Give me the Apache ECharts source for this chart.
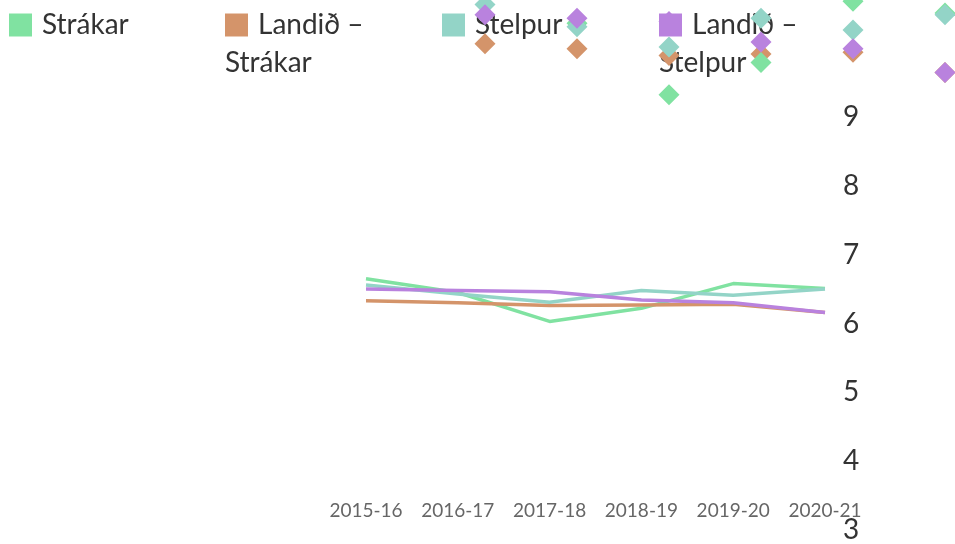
<!DOCTYPE html>
<html lang="is">
<head>
<meta charset="UTF-8">
<title>Strákar og stelpur</title>
<style>
  html, body { margin: 0; padding: 0; background: #fff; }
  #main { width: 955px; height: 544px; }
</style>
</head>
<body>
<div id="main"></div>
<script src="https://cdn.jsdelivr.net/npm/echarts/dist/echarts.min.js"></script>
<script>
// gögn
var years = ['2015-16', '2016-17', '2017-18', '2018-19', '2019-20', '2020-21'];
var strakar = [6.65, 6.45, 6.03, 6.22, 6.58, 6.51];
var landidStrakar = [6.33, 6.30, 6.26, 6.27, 6.28, 6.16];
var stelpur = [6.56, 6.43, 6.31, 6.48, 6.41, 6.50];
var landidStelpur = [6.50, 6.48, 6.46, 6.34, 6.30, 6.16];

var names = ['Strákar', 'Landið – Strákar', 'Stelpur', 'Landið – Stelpur'];
var legendLines = [['Strákar'], ['Landið –', 'Strákar'], ['Stelpur'], ['Landið –', 'Stelpur']];
var colors = ['#80e2a1', '#d4946a', '#93d4c7', '#b982de'];
var seriesData = [strakar, landidStrakar, stelpur, landidStelpur];

var font = 'Lato, "Noto Sans", sans-serif';
var legendLeft = [3, 219, 436, 653];

var chart = echarts.init(document.getElementById('main'));

var legends = names.map(function (n, i) {
    var rich = {
        box: { width: 23, height: 23, backgroundColor: colors[i] },
        sp: { width: 10 },
        t: { fontSize: 28, lineHeight: 38, color: '#333', fontFamily: font }
    };
    return {
        left: legendLeft[i],
        top: 11,
        padding: 0,
        data: [n],
        itemWidth: 0,
        itemHeight: 0,
        selectedMode: false,
        formatter: function () {
            var lines = legendLines[i];
            var s = '{box|}{sp|}{t|' + lines[0] + '}';
            for (var k = 1; k < lines.length; k++) s += '\n{t|' + lines[k] + '}';
            return s;
        },
        textStyle: { rich: rich }
    };
});

var series = [];
// línur
names.forEach(function (n, i) {
    series.push({
        name: n,
        type: 'line',
        xAxisIndex: 0,
        yAxisIndex: 0,
        data: seriesData[i],
        showSymbol: false,
        symbol: 'none',
        lineStyle: { width: 3.5, color: colors[i] },
        itemStyle: { color: colors[i] },
        z: 2
    });
});
// tíglar
[1, 0, 2, 3].forEach(function (i) {
    series.push({
        name: names[i],
        type: 'scatter',
        xAxisIndex: 1,
        yAxisIndex: 1,
        data: seriesData[i],
        symbol: 'diamond',
        symbolSize: 21,
        clip: false,
        itemStyle: { color: colors[i], opacity: 1 },
        z: 5
    });
});

var option = {
    animation: false,
    legend: legends,
    grid: [
        { left: 366, top: 117, width: 459, height: 413 },
        { left: 485, top: 0, width: 460, height: 170 }
    ],
    xAxis: [
        {
            type: 'category',
            gridIndex: 0,
            data: years,
            boundaryGap: false,
            offset: -37,
            axisLine: { show: false },
            axisTick: { show: false },
            axisLabel: { fontSize: 19, color: '#666', fontFamily: font, margin: 8, interval: 0 }
        },
        {
            type: 'category',
            gridIndex: 1,
            data: years,
            boundaryGap: false,
            show: false
        }
    ],
    yAxis: [
        {
            type: 'value',
            gridIndex: 0,
            position: 'right',
            min: 3,
            max: 9,
            interval: 1,
            axisLine: { show: false },
            axisTick: { show: false },
            splitLine: { show: false },
            axisLabel: { fontSize: 28, color: '#333', fontFamily: font, margin: 18 }
        },
        {
            type: 'value',
            gridIndex: 1,
            min: 5.587,
            max: 6.587,
            show: false
        }
    ],
    series: series
};

chart.setOption(option);
</script>
</body>
</html>
